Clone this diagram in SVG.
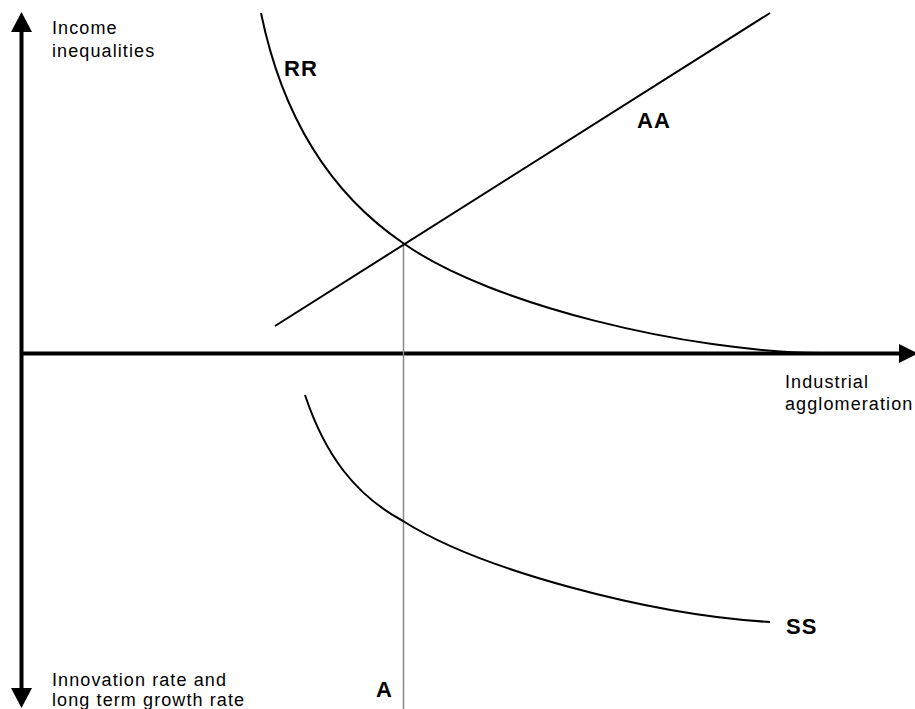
<svg xmlns="http://www.w3.org/2000/svg" width="915" height="709" viewBox="0 0 915 709">
<style>
.lbl{font-family:"Liberation Sans",Arial,sans-serif;font-size:18px;fill:#000;letter-spacing:1.1px}
.bold{font-family:"Liberation Sans",Arial,sans-serif;font-size:22px;font-weight:bold;fill:#000;letter-spacing:1px}
.axis{stroke:#000;stroke-width:4;fill:none}
.curve{stroke:#000;stroke-width:2;fill:none}
</style>
<rect width="915" height="709" fill="#fff"/>
<g id="axes">
<line class="axis" x1="21.5" y1="30" x2="21.5" y2="690"/>
<polygon points="21.5,12 11,32 32,32" fill="#000"/>
<polygon points="21.5,708 11,688 32,688" fill="#000"/>
<line class="axis" x1="21.5" y1="353.5" x2="902" y2="353.5"/>
<polygon points="918,353.5 899,344 899,363" fill="#000"/>
</g>
<g id="connectors">
<line x1="403.5" y1="243" x2="403.5" y2="709" stroke="#888" stroke-width="1.5"/>
<line class="curve" x1="275" y1="326" x2="770" y2="13"/>
<path class="curve" d="M261,13 C285,130 340,200 403,243 C490,305 690,352 820,353"/>
<path class="curve" d="M305,395 C325,455 355,495 403,521 C480,570 650,615 770,622"/>
</g>
<g id="labels">
<text class="lbl" x="52" y="34">Income</text>
<text class="lbl" x="52" y="57">inequalities</text>
<text class="lbl" x="785" y="388">Industrial</text>
<text class="lbl" x="785" y="410">agglomeration</text>
<text class="lbl" x="52" y="686">Innovation rate and</text>
<text class="lbl" x="52" y="706">long term growth rate</text>
<text class="bold" x="284" y="76">RR</text>
<text class="bold" x="637" y="128">AA</text>
<text class="bold" x="786" y="634">SS</text>
<text class="bold" x="376" y="697">A</text>
</g>
</svg>
